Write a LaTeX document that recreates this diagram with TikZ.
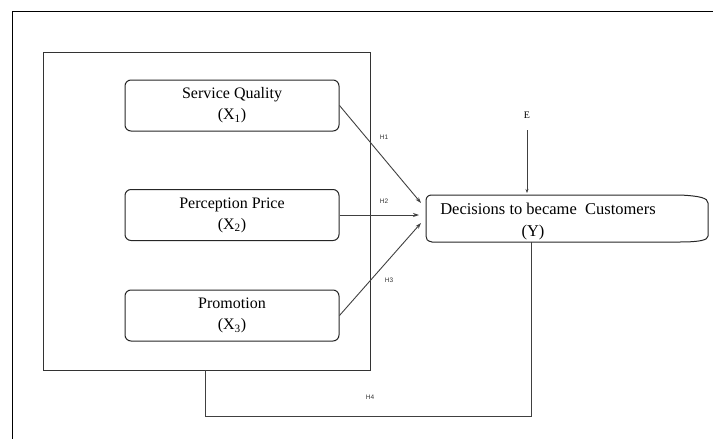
\documentclass[tikz,border=0pt]{standalone}
\usepackage{fontspec}
\setmainfont{Liberation Serif}
\setsansfont{Liberation Sans}
\usetikzlibrary{arrows.meta}
\begin{document}
\begin{tikzpicture}[x=1pt,y=-1pt,
  varbox/.style={draw=black!85,line width=1pt,rounded corners=6pt,minimum width=214pt,minimum height=51pt,inner sep=0pt,align=center,font=\fontsize{16}{21}\selectfont},
  conn/.style={draw=black!75,line width=0.9pt},
  arr/.style={conn,-{Stealth[length=6pt,width=4pt]}},
  hlab/.style={font=\sffamily\fontsize{6.5}{7}\selectfont,text=black!80,inner sep=0pt},
  ytext/.style={font=\fontsize{16.5}{20}\selectfont,inner sep=0pt}]
\useasboundingbox (0,0) rectangle (713,439);
% outer frame
\draw[black,line width=0.9pt] (12,439) -- (12,11) -- (713,11);
% big rectangle
\node[draw=black!80,line width=1pt,minimum width=327pt,minimum height=318pt,inner sep=0pt] (grp) at (206.5,211) {};
% variable boxes
\node[varbox] (x1) at (232,105.5) {Service Quality\\(X\textsubscript{1})};
\node[varbox] (x2) at (232,215) {Perception Price\\(X\textsubscript{2})};
\node[varbox] (x3) at (232,315.5) {Promotion\\(X\textsubscript{3})};
% dependent node
\node[minimum width=282pt,minimum height=47pt,inner sep=0pt] (y) at (567,218.5) {};
\draw[black!85,line width=1pt] (432,195) -- (680,195) .. controls (700,196) and (708,198) .. (708,203) -- (708,236) .. controls (708,240) and (700,242) .. (680,242) -- (432,242) .. controls (427,241) and (426,239) .. (426,236) -- (426,201) .. controls (426,197) and (428,195) .. (432,195);
\node[ytext] (ylab) at (548,209) {Decisions to became\ \ Customers};
\node[ytext] (ysym) at (533,233) {(Y)};
% error term
\node[font=\fontsize{10}{11}\selectfont,inner sep=0pt] (e) at (527,115) {E};
\coordinate (etop) at (527,130);
\coordinate (ebot) at (527,193);
\draw[conn,-{Stealth[length=4pt,width=3pt]}] (etop) -- (ebot);
% hypotheses arrows
\coordinate (t1) at (421,203);
\coordinate (t2) at (419,215);
\coordinate (t3) at (421,223);
\draw[arr] (x1.east) -- (t1);
\draw[arr] (x2.east) -- (t2);
\draw[arr] (x3.east) -- (t3);
\node[hlab] (h1) at (384,137) {H1};
\node[hlab] (h2) at (384,201) {H2};
\node[hlab] (h3) at (389,280) {H3};
% H4 path
\coordinate (g4) at (205,370);
\coordinate (c1) at (205,416);
\coordinate (c2) at (531,416);
\coordinate (y4) at (531,242);
\draw[conn] (g4) -- (c1) -- (c2) -- (y4);
\node[hlab] (h4) at (370,397) {H4};
\end{tikzpicture}
\end{document}
